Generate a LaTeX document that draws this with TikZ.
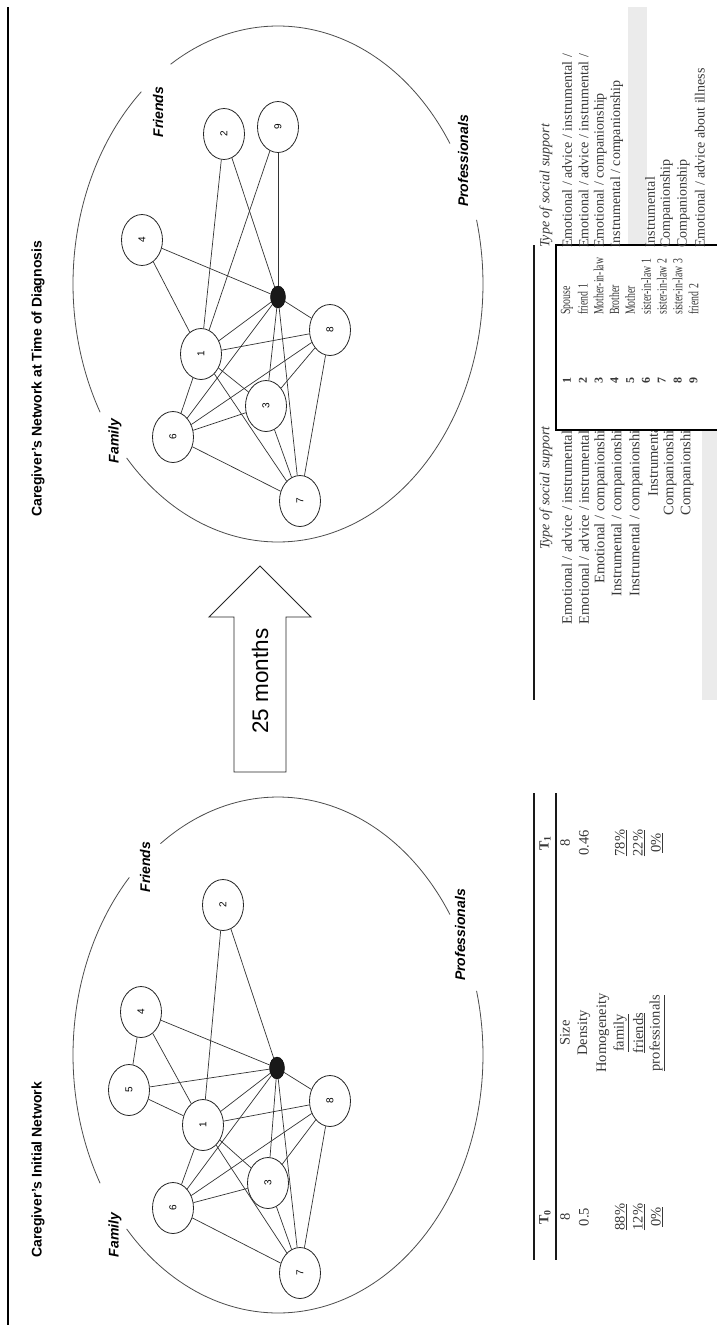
\documentclass[tikz,border=0pt]{standalone}
\usepackage{fontspec}
\usepackage{graphicx}
\setmainfont{Liberation Serif}
\setsansfont{Liberation Sans}
\usetikzlibrary{shapes.geometric}
\tikzset{
  nd/.style={ellipse, draw=black!85, line width=0.8pt, minimum width=41pt, minimum height=51pt, inner sep=0pt, font=\sffamily\fontsize{10}{10}\selectfont},
  hub/.style={ellipse, fill=black!90, draw=black, minimum width=15pt, minimum height=22pt, inner sep=0pt},
  lnk/.style={draw=black!80, line width=0.7pt},
  ring/.style={draw=black!70, line width=0.8pt},
  grp/.style={font=\sffamily\bfseries\itshape\fontsize{14}{14}\selectfont, rotate=90, inner sep=0pt},
  ttl/.style={font=\sffamily\bfseries\fontsize{14}{14}\selectfont, rotate=90, anchor=west, inner sep=0pt},
  tab/.style={font=\fontsize{14.5}{14.5}\selectfont, rotate=90, text=black!78, inner sep=0pt},
  itab/.style={font=\itshape\fontsize{14}{14}\selectfont, rotate=90, text=black!78, inner sep=0pt},
  rtab/.style={font=\fontsize{14}{14}\selectfont, rotate=90, text=black!78, inner sep=0pt, anchor=west},
  btab/.style={font=\fontsize{14}{14}\selectfont, rotate=90, text=black!78, inner sep=0pt},
  rulel/.style={line width=1.6pt, draw=black!90},
}
\newcommand{\rl}[1]{\rotatebox{90}{#1}}
\newcommand{\cnd}[1]{\scalebox{0.7}[1]{#1}}
\begin{document}
\begin{tikzpicture}[x=1pt,y=-1pt]
\useasboundingbox (0,0) rectangle (717,1325);
\fill[white] (0,0) rectangle (717,1325);
% border line
\draw[line width=1.8pt] (8,7) -- (8,1325);

% titles
\node[ttl] (tL) at (38,1258) {Caregiver's Initial Network};
\node[ttl] (tR) at (38,517) {Caregiver's Network at Time of Diagnosis};

% big ellipses (left network centre y=1055, right network centre y=284)
\foreach \c/\ga/\gb in {1055/125/136.5,284/121.6/131.8}{
  \draw[ring] plot[domain=33:\ga, samples=60] ({278+205*cos(\x)},{\c-258*sin(\x)});
  \draw[ring] plot[domain=\gb:209.8, samples=60] ({278+205*cos(\x)},{\c-258*sin(\x)});
  \draw[ring] plot[domain=222.4:374.4, samples=90] ({278+205*cos(\x)},{\c-258*sin(\x)});
}

% group labels
\node[grp] (LFam) at (115,1235) {Family};
\node[grp] (LFri) at (145,867) {Friends};
\node[grp] (LPro) at (460,935) {Professionals};
\node[grp] (RFam) at (115,441) {Family};
\node[grp] (RFri) at (158,112) {Friends};
\node[grp] (RPro) at (463,161) {Professionals};

% ---------- left network ----------
\node[nd] (L2) at (223,905) {\rl{2}};
\node[nd] (L4) at (141,1012) {\rl{4}};
\node[nd] (L5) at (129,1090) {\rl{5}};
\node[nd] (L1) at (203,1125) {\rl{1}};
\node[nd] (L8) at (330,1101) {\rl{8}};
\node[nd] (L3) at (268,1183) {\rl{3}};
\node[nd] (L6) at (173,1208) {\rl{6}};
\node[nd] (L7) at (300,1273) {\rl{7}};
\node[hub] (LB) at (277,1068) {};
\foreach \a/\b in {L2/L1,L2/LB,L4/LB,L4/L5,L4/L1,L5/LB,L5/L1,L1/LB,L1/L8,L1/L6,L1/L3,L1/L7,L6/LB,L6/L8,L6/L3,L6/L7,L3/LB,L3/L8,L3/L7,LB/L7,LB/L8,L8/L7}
  \draw[lnk] (\a) -- (\b);

% ---------- right network ----------
\node[nd] (R2) at (224,134) {\rl{2}};
\node[nd] (R9) at (278,127) {\rl{9}};
\node[nd] (R4) at (142,240) {\rl{4}};
\node[nd] (R1) at (201,354) {\rl{1}};
\node[nd] (R8) at (330,330) {\rl{8}};
\node[nd] (R3) at (266,406) {\rl{3}};
\node[nd] (R6) at (173,437) {\rl{6}};
\node[nd] (R7) at (300,501) {\rl{7}};
\node[hub] (RB) at (278,297) {};
\foreach \a/\b in {R2/R1,R2/RB,R9/R1,R9/RB,R4/RB,R4/R1,R1/RB,R1/R8,R1/R6,R1/R3,R1/R7,R6/RB,R6/R8,R6/R3,R6/R7,R3/RB,R3/R8,R3/R7,RB/R7,RB/R8,R8/R7}
  \draw[lnk] (\a) -- (\b);

% ---------- arrow ----------
\draw[line width=0.9pt, draw=black!85, fill=white] (234,772) -- (234,617) -- (209,617) -- (260,566) -- (311,617) -- (286,617) -- (286,772) -- cycle;
\node[rotate=90, font=\sffamily\fontsize{22.5}{22.5}\selectfont] (arr) at (260,681) {25 months};

% ---------- stats table ----------
\draw[rulel] (534,793) -- (534,1260);
\draw[rulel] (556,793) -- (556,1260);
\node[tab, font=\bfseries\fontsize{14}{14}\selectfont] (h0) at (545,1217) {T\textsubscript{0}};
\node[tab, font=\bfseries\fontsize{14}{14}\selectfont] (h1) at (545,843) {T\textsubscript{1}};
\node[tab] (a1) at (565,1217) {8};
\node[tab] (a2) at (584,1217) {0.5};
\node[tab] (a4) at (621,1217) {\underline{88\%}};
\node[tab] (a5) at (639,1217) {\underline{12\%}};
\node[tab] (a6) at (657,1217) {\underline{0\%}};
\node[tab] (m1) at (565,1033) {Size};
\node[tab] (m2) at (584,1033) {Density};
\node[tab] (m3) at (603,1033) {Homogeneity};
\node[tab] (m4) at (621,1033) {\underline{family}};
\node[tab] (m5) at (639,1033) {\underline{friends}};
\node[tab] (m6) at (657,1033) {\underline{professionals}};
\node[tab] (b1) at (565,843) {8};
\node[tab] (b2) at (584,843) {0.46};
\node[tab] (b4) at (621,843) {\underline{78\%}};
\node[tab] (b5) at (639,843) {\underline{22\%}};
\node[tab] (b6) at (657,843) {\underline{0\%}};

% ---------- support tables ----------
\fill[black!8] (702,430) rectangle (717,700);
\fill[black!8] (628,7) rectangle (647,245);
\draw[rulel] (534,245) -- (534,700);
\node[itab, anchor=east] (mh) at (546,426) {Type of social support};
\node[tab, anchor=east] (s1) at (567,423) {Emotional / advice / instrumental /};
\node[tab, anchor=east] (s2) at (584,423) {Emotional / advice / instrumental /};
\node[tab, anchor=east] (s3) at (601,423) {Emotional / companionship};
\node[tab, anchor=east] (s4) at (618,423) {Instrumental / companionship};
\node[tab, anchor=east] (s5) at (636,423) {Instrumental / companionship};
\node[tab, anchor=east] (s6) at (653,423) {Instrumental};
\node[tab, anchor=east] (s7) at (670,423) {Companionship};
\node[tab, anchor=east] (s8) at (687,423) {Companionship};

\draw[line width=1.5pt, fill=white] (556,245) rectangle (722,430);
\foreach \i/\r in {1/Spouse,2/friend 1,3/Mother-in-law,4/Brother,5/Mother,6/sister-in-law 1,7/sister-in-law 2,8/sister-in-law 3,9/friend 2}{
  \node[btab, font=\bfseries\fontsize{12}{12}\selectfont] (n\i) at ({567+15.8*(\i-1)},380) {\i};
  \node[btab, anchor=west] (r\i) at ({567+15.8*(\i-1)},315) {\cnd{\r}};
}
\node[itab, anchor=west] (th) at (546,248) {Type of social support};
\node[rtab] (t1) at (567,248) {Emotional / advice / instrumental /};
\node[rtab] (t2) at (583.6,248) {Emotional / advice / instrumental /};
\node[rtab] (t3) at (600.2,248) {Emotional / companionship};
\node[rtab] (t4) at (616.8,248) {Instrumental / companionship};
\node[rtab] (t6) at (650,248) {Instrumental};
\node[rtab] (t7) at (666.6,248) {Companionship};
\node[rtab] (t8) at (683.2,248) {Companionship};
\node[rtab] (t9) at (699.8,248) {Emotional / advice about illness};
\end{tikzpicture}
\end{document}
